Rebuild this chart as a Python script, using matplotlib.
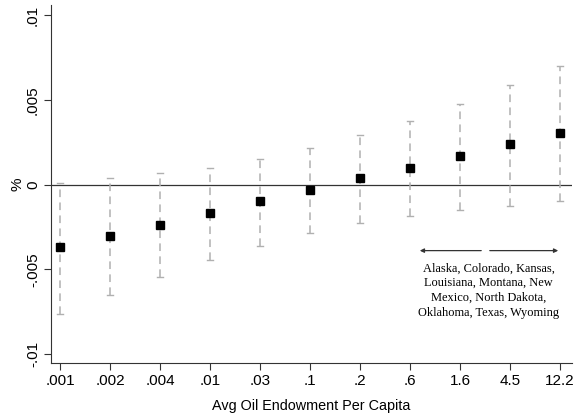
import matplotlib
matplotlib.use("Agg")
import matplotlib.pyplot as plt
import numpy as np

labels = [".001", ".002", ".004", ".01", ".03", ".1", ".2", ".6", "1.6", "4.5", "12.2"]
coef = [-0.00367, -0.00302, -0.00237, -0.00166, -0.00100, -0.00030, 0.00036, 0.00100, 0.00167, 0.00237, 0.00306]
ci_hi = [0.00006, 0.00036, 0.00065, 0.00100, 0.00148, 0.00213, 0.00290, 0.00377, 0.00477, 0.00586, 0.00698]
ci_lo = [-0.00763, -0.00650, -0.00544, -0.00444, -0.00360, -0.00284, -0.00225, -0.00183, -0.00150, -0.00124, -0.00100]
yticks = [-0.01, -0.005, 0, 0.005, 0.01]
ytick_labels = ["-.01", "-.005", "0", ".005", ".01"]
note = "Alaska, Colorado, Kansas,\nLouisiana, Montana, New\nMexico, North Dakota,\nOklahoma, Texas, Wyoming"

plt.rcParams['font.family'] = ['Liberation Sans', 'DejaVu Sans']
fig = plt.figure(figsize=(5.76, 4.2), dpi=100)
ax = fig.add_axes([51/576, 1 - 363/420, (572 - 51)/576, (363 - 5)/420])

x = np.arange(len(labels))
gray = "#b0b0b0"
for xi, lo, hi in zip(x, ci_lo, ci_hi):
    ax.plot([xi, xi], [lo, hi], color=gray, lw=1.1, linestyle=(0, (5, 3.5)), zorder=2)
    for yv in (lo, hi):
        ax.plot([xi - 0.06, xi + 0.06], [yv, yv], color=gray, lw=1.0, zorder=2)
ax.axhline(0, color="#333333", lw=0.9, zorder=1)
ax.plot(x, coef, linestyle="none", marker="s", markersize=5.6, color="black", zorder=3)

ax.set_xlim(-0.18, 10.24)
ax.set_ylim(-0.01053, 0.01059)
ax.set_yticks(yticks)
ax.set_yticklabels(ytick_labels, rotation=90, va="center")
ax.set_xticks(x)
ax.set_xticklabels(labels)
ax.tick_params(axis="both", labelsize=11, color="#333333", length=5, width=0.8, pad=3)
ax.spines["top"].set_visible(False)
ax.spines["right"].set_visible(False)
ax.spines["bottom"].set_color("#333333")
ax.spines["left"].set_color("#333333")
ax.set_ylabel("%", fontsize=11, labelpad=1)
ax.set_xlabel("Avg Oil Endowment Per Capita", fontsize=10.4, labelpad=8)

ya = -0.0039
ax.annotate("", xy=(7.14, ya), xytext=(8.48, ya),
            arrowprops=dict(arrowstyle="-|>", color="#333333", lw=0.9, mutation_scale=6))
ax.annotate("", xy=(10.02, ya), xytext=(8.54, ya),
            arrowprops=dict(arrowstyle="-|>", color="#333333", lw=0.9, mutation_scale=6))
ax.text(8.57, -0.0046, note, ha="center", va="top", fontsize=8.9,
        family=["Liberation Serif", "DejaVu Serif"], linespacing=1.3)

fig.savefig("out.png", dpi=100)
